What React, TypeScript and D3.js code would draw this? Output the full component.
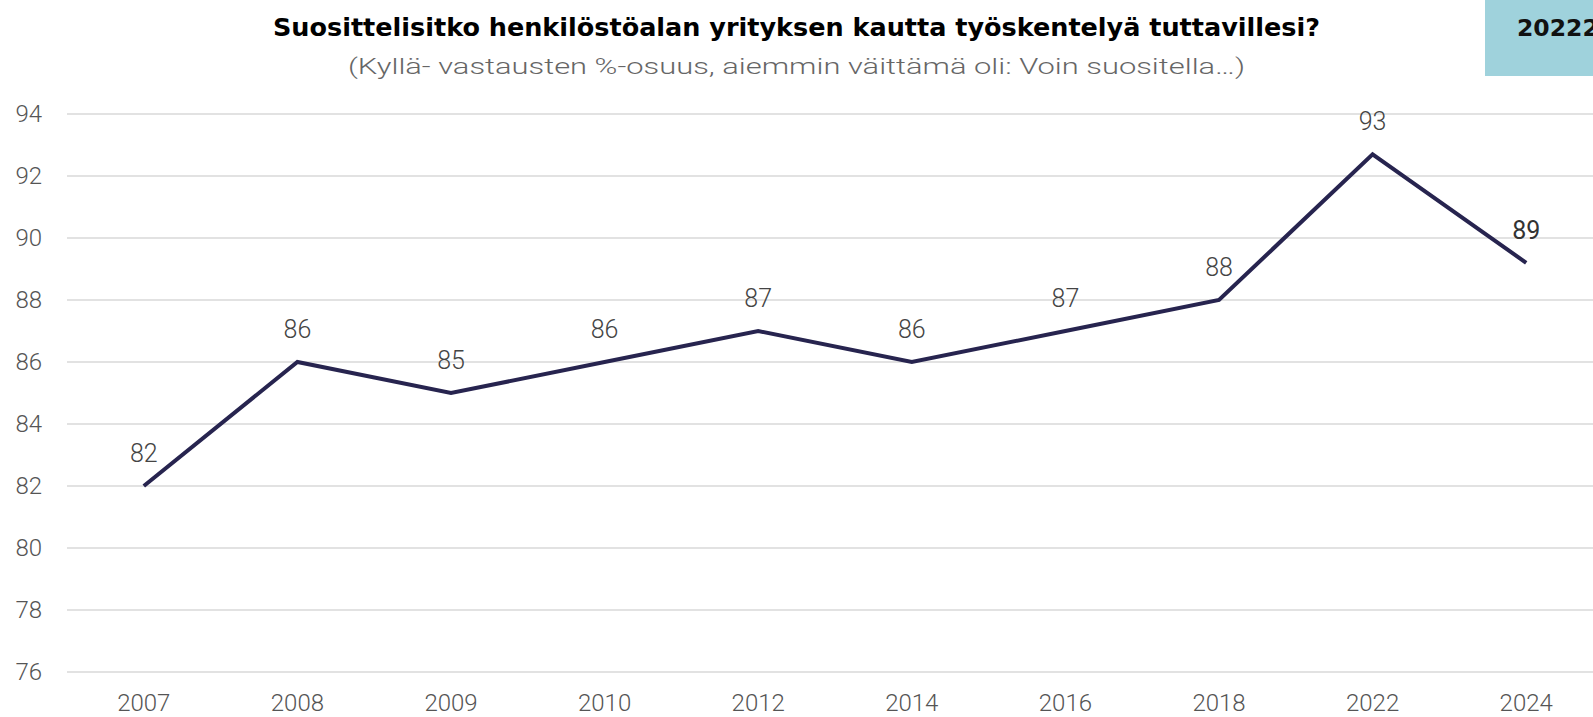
import React from "react";
import * as d3 from "d3";

const years = ["2007", "2008", "2009", "2010", "2012", "2014", "2016", "2018", "2022", "2024"];
const values = [82, 86, 85, 86, 87, 86, 87, 88, 92.7, 89.2];
const valueLabels = ["82", "86", "85", "86", "87", "86", "87", "88", "93", "89"];
const yTicks = [76, 78, 80, 82, 84, 86, 88, 90, 92, 94];
const title = "Suosittelisitko henkilöstöalan yrityksen kautta työskentelyä tuttavillesi?";
const subtitle = "(Kyllä- vastausten %-osuus, aiemmin väittämä oli: Voin suositella…)";
const badge = "20222";

const W = 1593;
const H = 717;

export default function App() {
  const x = d3.scalePoint<string>().domain(years).range([67, 1603]).padding(0.5);
  const y = d3.scaleLinear().domain([76, 94]).range([672, 114]);
  const line = d3
    .line<number>()
    .x((_, i) => x(years[i]) as number)
    .y((d) => y(d));
  const font = "Roboto, 'Liberation Sans', Arial, sans-serif";
  return (
    <svg width={W} height={H} style={{ position: "absolute", left: 0, top: 0, background: "#fff" }}>
      <rect x={1485} y={0} width={W - 1485} height={76} fill="#9fd2dc" />
      <text x={1517} y={36} fontFamily="'DejaVu Sans', sans-serif" fontWeight={700} fontSize={23.5} fill="#111">
        {badge}
      </text>
      <text
        x={W / 2}
        y={36}
        textAnchor="middle"
        fontFamily="'DejaVu Sans', sans-serif"
        fontWeight={700}
        fontSize={24}
        fill="#000"
        textLength={1047}
        lengthAdjust="spacingAndGlyphs"
      >
        {title}
      </text>
      <text
        x={W / 2}
        y={74}
        textAnchor="middle"
        fontFamily={font}
        fontWeight={300}
        fontSize={22}
        fill="#666"
        textLength={897}
        lengthAdjust="spacingAndGlyphs"
      >
        {subtitle}
      </text>
      {yTicks.map((t) => (
        <g key={t}>
          <line x1={67} x2={W} y1={y(t)} y2={y(t)} stroke="#d9d9d9" strokeWidth={1.5} />
          <text x={42} y={y(t) + 8} textAnchor="end" fontFamily={font} fontWeight={300} fontSize={24} fill="#555">
            {t}
          </text>
        </g>
      ))}
      {years.map((yr) => (
        <text key={yr} x={x(yr)} y={711} textAnchor="middle" fontFamily={font} fontWeight={300} fontSize={24} fill="#555">
          {yr}
        </text>
      ))}
      <path d={line(values) || ""} fill="none" stroke="#27244f" strokeWidth={4} strokeLinejoin="miter" />
      {values.map((v, i) => (
        <text
          key={i}
          x={x(years[i])}
          y={y(v) - 24}
          textAnchor="middle"
          fontFamily={font}
          fontWeight={i === values.length - 1 ? 400 : 300}
          fontSize={25}
          fill={i === values.length - 1 ? "#333" : "#444"}
        >
          {valueLabels[i]}
        </text>
      ))}
    </svg>
  );
}
